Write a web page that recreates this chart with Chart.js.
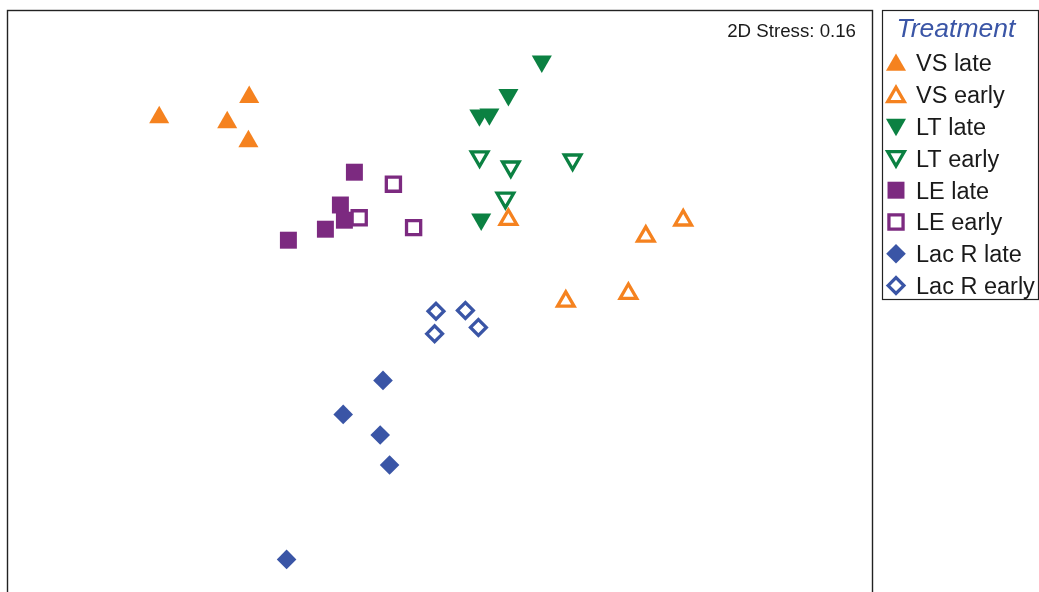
<!DOCTYPE html>
<html>
<head>
<meta charset="utf-8">
<script src="https://cdn.jsdelivr.net/npm/chart.js@4/dist/chart.umd.min.js"></script>
<style>
  html, body { margin: 0; padding: 0; background: #fff; overflow: hidden; }
  canvas { display: block; }
</style>
</head>
<body>
<canvas id="mds" width="1039" height="600"></canvas>
<script>
// NMDS ordination coordinates (MDS1, MDS2) per treatment group
const groupNames = ['VS late', 'VS early', 'LT late', 'LT early', 'LE late', 'LE early', 'Lac R late', 'Lac R early'];

const vsLateX   = [-1.404, -0.954, -1.064, -0.958];
const vsLateY   = [ 0.913,  1.014,  0.888,  0.793];
const vsEarlyX  = [ 1.216,  1.029,  0.942,  0.629,  0.342];
const vsEarlyY  = [ 0.399,  0.318,  0.032, -0.007,  0.402];
const ltLateX   = [ 0.509,  0.342,  0.197,  0.247,  0.206];
const ltLateY   = [ 1.193,  1.026,  0.924,  0.929,  0.403];
const ltEarlyX  = [ 0.198,  0.354,  0.663,  0.327];
const ltEarlyY  = [ 0.717,  0.666,  0.701,  0.510];
const leLateX   = [-0.428, -0.498, -0.478, -0.573, -0.758];
const leLateY   = [ 0.639,  0.475,  0.399,  0.354,  0.299];
const leEarlyX  = [-0.233, -0.404, -0.132];
const leEarlyY  = [ 0.579,  0.411,  0.362];
const lacLateX  = [-0.285, -0.484, -0.299, -0.252, -0.767];
const lacLateY  = [-0.402, -0.572, -0.675, -0.825, -1.297];
const lacEarlyX = [-0.020,  0.127,  0.192, -0.027];
const lacEarlyY = [-0.056, -0.052, -0.137, -0.169];

const stressLabel = '2D Stress: 0.16';
const legendTitle = 'Treatment';

const ORANGE = '#f5821f';
const GREEN  = '#0b8142';
const PURPLE = '#7c2a80';
const BLUE   = '#3a55a6';

function pts(xs, ys) { return xs.map((x, i) => ({ x: x, y: ys[i] })); }

// marker look: shape, rotation, radius, filled or hollow
function marker(label, xs, ys, color, shape, rot, radius, filled) {
  return {
    label: label,
    data: pts(xs, ys),
    pointStyle: shape,
    pointRotation: rot,
    pointRadius: radius,
    pointHoverRadius: radius,
    pointBackgroundColor: filled ? color : 'rgba(0,0,0,0)',
    pointBorderColor: color,
    pointBorderWidth: filled ? 0 : 3.3,
    showLine: false
  };
}

const datasets = [
  marker(groupNames[0], vsLateX,   vsLateY,   ORANGE, 'triangle', 0,   11.6, true),
  marker(groupNames[1], vsEarlyX,  vsEarlyY,  ORANGE, 'triangle', 0,   9.6,  false),
  marker(groupNames[2], ltLateX,   ltLateY,   GREEN,  'triangle', 180, 11.6, true),
  marker(groupNames[3], ltEarlyX,  ltEarlyY,  GREEN,  'triangle', 180, 9.6,  false),
  marker(groupNames[4], leLateX,   leLateY,   PURPLE, 'rect',     0,   12,   true),
  marker(groupNames[5], leEarlyX,  leEarlyY,  PURPLE, 'rect',     0,   10,   false),
  marker(groupNames[6], lacLateX,  lacLateY,  BLUE,   'rectRot',  0,   9.8,  true),
  marker(groupNames[7], lacEarlyX, lacEarlyY, BLUE,   'rectRot',  0,   7.9,  false)
];

const FONT = '"Liberation Sans", Arial, Helvetica, sans-serif';

// frame around the plotting region plus the stress annotation
const framePlugin = {
  id: 'frame',
  afterDraw(chart) {
    const { ctx, chartArea: a } = chart;
    ctx.save();
    ctx.strokeStyle = '#222';
    ctx.lineWidth = 1.4;
    ctx.strokeRect(a.left - 0.5, a.top + 0.5, a.right - a.left, a.bottom - a.top + 20);
    ctx.fillStyle = '#1a1a1a';
    ctx.font = '18.7px ' + FONT;
    ctx.textAlign = 'right';
    ctx.textBaseline = 'alphabetic';
    ctx.fillText(stressLabel, a.right - 17, a.top + 26.5);
    ctx.restore();
  }
};

// boxed legend to the right of the plot
const legendPlugin = {
  id: 'boxLegend',
  afterDraw(chart) {
    const { ctx, chartArea: a } = chart;
    const left = a.right + 9.5, top = a.top + 0.5, right = 1038.5, bottom = 299.5;
    ctx.save();
    ctx.strokeStyle = '#222';
    ctx.lineWidth = 1.2;
    ctx.strokeRect(left, top, right - left, bottom - top);

    ctx.fillStyle = '#3a55a6';
    ctx.font = 'italic 26.5px ' + FONT;
    ctx.textAlign = 'left';
    ctx.textBaseline = 'alphabetic';
    ctx.fillText(legendTitle, left + 14, 36.5);

    const rowStart = 63, rowStep = 31.8, markX = 896, textX = 916;
    chart.data.datasets.forEach((ds, i) => {
      const y = rowStart + i * rowStep;
      let cy = y;
      if (ds.pointStyle === 'triangle') cy += (ds.pointRotation === 180 ? -2 : 2);
      ctx.fillStyle = ds.pointBackgroundColor;
      ctx.strokeStyle = ds.pointBorderColor;
      ctx.lineWidth = ds.pointBorderWidth;
      Chart.helpers.drawPoint(ctx, {
        pointStyle: ds.pointStyle,
        rotation: ds.pointRotation,
        radius: ds.pointRadius,
        borderWidth: ds.pointBorderWidth
      }, markX, cy);
      ctx.fillStyle = '#1a1a1a';
      ctx.font = '23.5px ' + FONT;
      ctx.fillText(ds.label, textX, y + 8.3);
    });
    ctx.restore();
  }
};

new Chart(document.getElementById('mds'), {
  type: 'scatter',
  data: { datasets: datasets },
  options: {
    responsive: false,
    devicePixelRatio: 1,
    animation: false,
    layout: { autoPadding: false, padding: { left: 8, top: 10, right: 166, bottom: 0 } },
    scales: {
      x: { type: 'linear', min: -2.16, max: 2.165, display: false },
      y: { type: 'linear', min: -1.5, max: 1.45, display: false }
    },
    plugins: {
      legend: { display: false },
      tooltip: { enabled: false }
    },
    events: []
  },
  plugins: [framePlugin, legendPlugin]
});
</script>
</body>
</html>
